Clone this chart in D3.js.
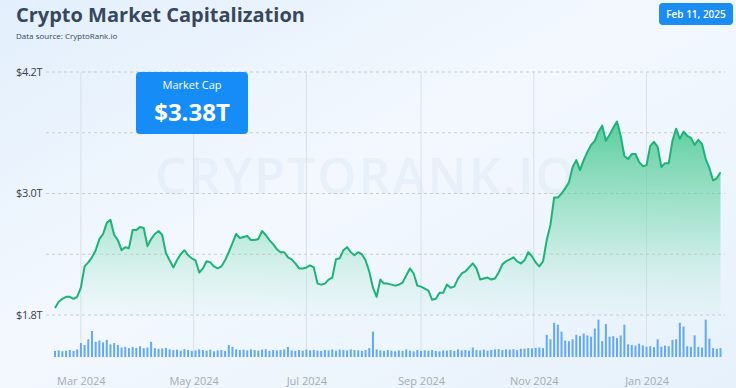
<!DOCTYPE html>
<html>
<head>
<meta charset="utf-8">
<script src="https://cdn.jsdelivr.net/npm/d3@7"></script>
<style>
  html, body { margin: 0; padding: 0; }
  body { width: 736px; height: 388px; overflow: hidden; font-family: "Open Sans", sans-serif; }
</style>
</head>
<body>
<div class="container"></div>
<script>
const width = 736, height = 388;

// market cap, $T, one reading every 2 days from Feb 16 2024
const capValues = [
  1.87, 1.93, 1.96, 1.98, 1.98, 1.96, 1.98, 2.07, 2.28, 2.32,
  2.37, 2.44, 2.55, 2.60, 2.71, 2.74, 2.59, 2.54, 2.44, 2.47,
  2.46, 2.64, 2.64, 2.67, 2.66, 2.48, 2.55, 2.60, 2.63, 2.59,
  2.41, 2.34, 2.27, 2.34, 2.40, 2.44, 2.39, 2.36, 2.34, 2.22,
  2.26, 2.33, 2.32, 2.28, 2.26, 2.28, 2.34, 2.42, 2.51, 2.60,
  2.56, 2.57, 2.58, 2.54, 2.54, 2.55, 2.63, 2.59, 2.54, 2.50,
  2.45, 2.42, 2.42, 2.37, 2.35, 2.31, 2.26, 2.26, 2.27, 2.29,
  2.27, 2.11, 2.10, 2.11, 2.15, 2.17, 2.35, 2.36, 2.44, 2.47,
  2.42, 2.39, 2.42, 2.40, 2.34, 2.23, 2.07, 1.98, 2.15, 2.11,
  2.11, 2.10, 2.09, 2.10, 2.12, 2.19, 2.26, 2.21, 2.09, 2.08,
  2.06, 2.04, 1.95, 1.96, 2.02, 2.02, 2.10, 2.07, 2.08, 2.16,
  2.21, 2.23, 2.27, 2.31, 2.26, 2.15, 2.16, 2.17, 2.15, 2.16,
  2.22, 2.30, 2.33, 2.35, 2.37, 2.33, 2.31, 2.34, 2.42, 2.38,
  2.32, 2.28, 2.33, 2.54, 2.69, 2.96, 2.96, 3.00, 3.05, 3.11,
  3.26, 3.33, 3.23, 3.33, 3.41, 3.48, 3.52, 3.61, 3.67, 3.52,
  3.58, 3.65, 3.71, 3.57, 3.37, 3.34, 3.39, 3.39, 3.31, 3.27,
  3.28, 3.47, 3.51, 3.46, 3.26, 3.30, 3.30, 3.52, 3.64, 3.54,
  3.61, 3.57, 3.55, 3.48, 3.53, 3.49, 3.34, 3.25, 3.13, 3.15,
  3.21
];

// volume, $B, same dates
const volValues = [
  48, 52, 45, 50, 55, 48, 60, 110, 95, 140,
  205, 120, 130, 115, 135, 100, 110, 95, 75, 80,
  70, 78, 72, 85, 70, 75, 120, 70, 65, 68,
  72, 60, 55, 58, 50, 62, 55, 48, 52, 60,
  55, 50, 58, 45, 52, 55, 48, 95, 80, 60,
  55, 58, 52, 60, 55, 50, 58, 62, 48, 55,
  52, 55, 60, 80, 52, 48, 55, 50, 58, 52,
  55, 50, 48, 55, 52, 60, 50, 58, 55, 52,
  60, 55, 52, 48, 55, 70, 200, 60, 52, 48,
  55, 50, 45, 52, 48, 60, 50, 45, 55, 48,
  52, 50, 55, 48, 45, 52, 50, 55, 48, 60,
  52, 55, 50, 75, 55, 52, 58, 50, 55, 60,
  62, 55, 60, 58, 62, 55, 65, 65, 70, 68,
  72, 75, 70, 175, 140, 270, 255, 200, 130, 125,
  140, 175, 165, 185, 170, 160, 225, 295, 125, 260,
  160, 165, 150, 170, 255, 100, 95, 90, 105, 92,
  80, 85, 78, 140, 82, 90, 85, 135, 140, 270,
  240, 85, 80, 170, 80, 75, 295, 145, 70, 65,
  70
];

const startDate = new Date(2024, 1, 16);
const endDate = new Date(2025, 1, 10);

const xTickDates = [new Date(2024, 2, 1), new Date(2024, 4, 1), new Date(2024, 6, 1),
                    new Date(2024, 8, 1), new Date(2024, 10, 1), new Date(2025, 0, 1)];
const xTickLabels = ['Mar 2024', 'May 2024', 'Jul 2024', 'Sep 2024', 'Nov 2024', 'Jan 2024'];

const yTicks = [1.8, 2.4, 3.0, 3.6, 4.2];
const yTickLabels = {1.8: '$1.8T', 3.0: '$3.0T', 4.2: '$4.2T'};

const data = capValues.map((v, i) => ({
	date: d3.timeDay.offset(startDate, i * 2),
	cap: v,
	vol: volValues[i]
}));

const sx = d3.scaleTime().domain([startDate, endDate]).range([55, 720.5]);
const sy = d3.scaleLinear().domain([1.8, 4.2]).range([315, 72]);
const sv = d3.scaleLinear().domain([0, 300]).range([357, 319]);

const svg = d3.select('.container').append('svg')
	.attr('width', width)
	.attr('height', height)
	.attr('viewBox', [0, 0, width, height]);

const defs = svg.append('defs');

let bg = defs.append('linearGradient').attr('id', 'bg')
	.attr('x1', 0).attr('y1', 0).attr('x2', 1).attr('y2', 1);
bg.append('stop').attr('offset', '0%').attr('stop-color', '#e2effc');
bg.append('stop').attr('offset', '45%').attr('stop-color', '#f3f8fe');
bg.append('stop').attr('offset', '100%').attr('stop-color', '#e6f1fb');

let ag = defs.append('linearGradient').attr('id', 'areaFill')
	.attr('gradientUnits', 'userSpaceOnUse')
	.attr('x1', 0).attr('y1', 120).attr('x2', 0).attr('y2', 320);
ag.append('stop').attr('offset', '0%').attr('stop-color', '#3cc68a').attr('stop-opacity', 0.85);
ag.append('stop').attr('offset', '55%').attr('stop-color', '#6fd6aa').attr('stop-opacity', 0.45);
ag.append('stop').attr('offset', '100%').attr('stop-color', '#b9ebd6').attr('stop-opacity', 0.05);

svg.append('rect').attr('width', width).attr('height', height).attr('fill', 'url(#bg)');

// watermark
svg.append('text')
	.attr('x', 366).attr('y', 194)
	.attr('text-anchor', 'middle')
	.attr('font-size', 50)
	.attr('font-weight', 600)
	.attr('letter-spacing', 2)
	.attr('fill', '#dde9f6')
	.attr('fill-opacity', 0.5)
	.text('CRYPTORANK.IO');

// vertical grid
svg.append('g')
	.selectAll('line')
	.data(xTickDates)
	.join('line')
	.attr('x1', d => sx(d)).attr('x2', d => sx(d))
	.attr('y1', 72).attr('y2', 357)
	.attr('stroke', '#d9e0e8')
	.attr('stroke-width', 1);

// horizontal dashed grid
svg.append('g')
	.selectAll('line')
	.data(yTicks)
	.join('line')
	.attr('x1', 46).attr('x2', 725)
	.attr('y1', d => sy(d)).attr('y2', d => sy(d))
	.attr('stroke', '#c8cdd3')
	.attr('stroke-dasharray', '3,3');

svg.append('g')
	.selectAll('text')
	.data(yTicks.filter(d => yTickLabels[d]))
	.join('text')
	.attr('x', 16)
	.attr('y', d => sy(d))
	.attr('dy', '0.35em')
	.attr('font-size', 11)
	.attr('fill', '#3a3f46')
	.attr('letter-spacing', -0.3)
	.text(d => yTickLabels[d]);

// volume bars
svg.append('g')
	.attr('fill', '#62a9f0')
	.selectAll('rect')
	.data(data)
	.join('rect')
	.attr('x', d => sx(d.date) - 1)
	.attr('y', d => sv(d.vol))
	.attr('width', 2)
	.attr('height', d => sv(0) - sv(d.vol));

// area + line
const area = d3.area()
	.x(d => sx(d.date))
	.y0(sy(1.8))
	.y1(d => sy(d.cap))
	.curve(d3.curveLinear);

const line = d3.line()
	.x(d => sx(d.date))
	.y(d => sy(d.cap))
	.curve(d3.curveLinear);

svg.append('path').datum(data).attr('d', area).attr('fill', 'url(#areaFill)');
svg.append('path').datum(data).attr('d', line)
	.attr('fill', 'none')
	.attr('stroke', '#1fb277')
	.attr('stroke-width', 2)
	.attr('stroke-linejoin', 'round');

// x axis labels
const xAxis = d3.axisBottom(sx)
	.tickValues(xTickDates)
	.tickFormat((d, i) => xTickLabels[i])
	.tickSize(0)
	.tickPadding(0);

const gx = svg.append('g')
	.attr('transform', 'translate(0,377)')
	.call(xAxis);
gx.select('.domain').remove();
gx.selectAll('text')
	.attr('font-family', '"Open Sans", sans-serif')
	.attr('font-size', 11)
	.attr('fill', '#a3acb7');

// title
svg.append('text')
	.attr('x', 16).attr('y', 22)
	.attr('font-size', 20)
	.attr('font-weight', 700)
	.attr('fill', '#38475b')
	.text('Crypto Market Capitalization');

svg.append('text')
	.attr('x', 16).attr('y', 39)
	.attr('font-size', 8)
	.attr('fill', '#38475b')
	.text('Data source: CryptoRank.io');

// date badge
svg.append('rect')
	.attr('x', 659).attr('y', 3).attr('width', 74).attr('height', 22).attr('rx', 4)
	.attr('fill', '#1a8cf2');
svg.append('text')
	.attr('x', 696).attr('y', 14).attr('dy', '0.35em')
	.attr('text-anchor', 'middle')
	.attr('font-size', 10)
	.attr('font-weight', 600)
	.attr('fill', '#fff')
	.text('Feb 11, 2025');

// market cap box
svg.append('rect')
	.attr('x', 136).attr('y', 72).attr('width', 112).attr('height', 62).attr('rx', 4)
	.attr('fill', '#168cf7');
svg.append('text')
	.attr('x', 192).attr('y', 89)
	.attr('text-anchor', 'middle')
	.attr('font-size', 11)
	.attr('fill', '#fff')
	.text('Market Cap');
svg.append('text')
	.attr('x', 192).attr('y', 121)
	.attr('text-anchor', 'middle')
	.attr('font-size', 24)
	.attr('font-weight', 700)
	.attr('fill', '#fff')
	.text('$3.38T');
</script>
</body>
</html>
